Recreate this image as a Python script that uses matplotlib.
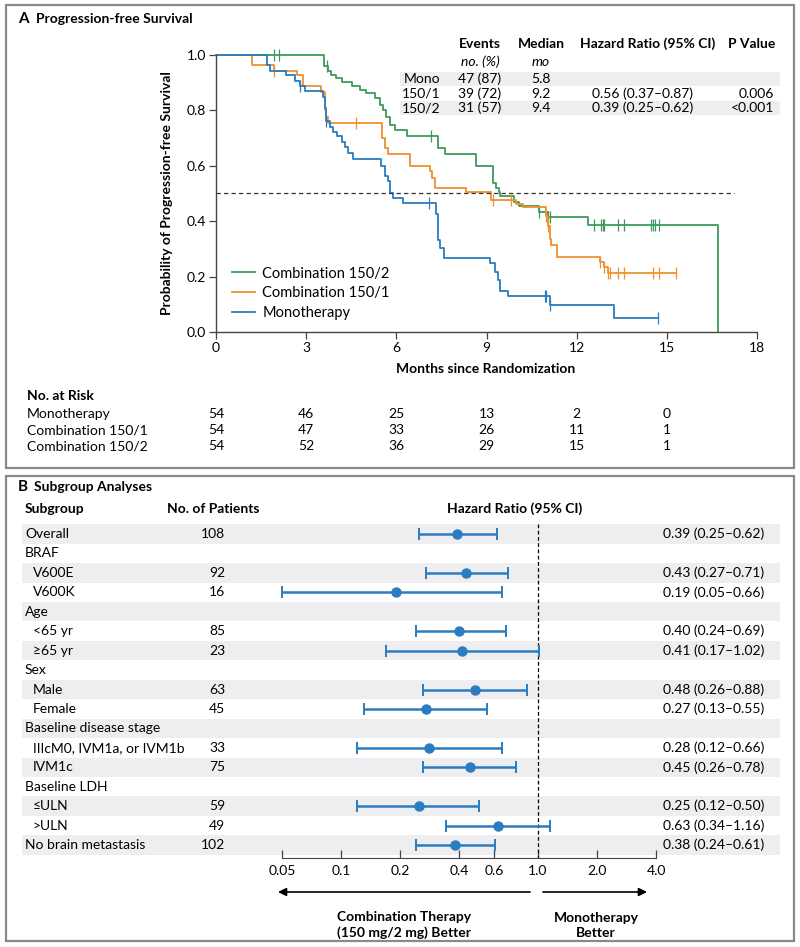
import numpy as np
import matplotlib
matplotlib.use('Agg')
import matplotlib.pyplot as plt
from matplotlib.patches import Rectangle
from matplotlib.transforms import blended_transform_factory
from matplotlib import font_manager

names = {f.name for f in font_manager.fontManager.ttflist}
base_font = 'Liberation Sans Narrow' if 'Liberation Sans Narrow' in names else 'Lato'
plt.rcParams['font.family'] = [base_font, 'DejaVu Sans']

# ---------------- Panel A data ----------------
# drop times (months) and survival after each drop
mono_t = [1.70, 1.79, 2.33, 2.62, 2.79, 2.95, 3.57, 3.62, 3.67, 3.79, 3.90, 4.01, 4.18,
          4.29, 4.40, 4.56, 5.50, 5.61, 5.72, 5.80, 5.89, 6.22, 7.33, 7.39, 7.46, 7.57,
          9.10, 9.27, 9.38, 9.46, 9.71, 11.10, 13.24]
mono_s = [0.963, 0.941, 0.926, 0.907, 0.889, 0.870, 0.850, 0.808, 0.760, 0.741, 0.722, 0.706, 0.685,
          0.667, 0.648, 0.625, 0.600, 0.563, 0.544, 0.500, 0.485, 0.466, 0.425, 0.333, 0.303, 0.268,
          0.249, 0.215, 0.189, 0.148, 0.129, 0.096, 0.050]
mono_end = 14.70
mono_cens = [2.80, 3.67, 7.09, 10.93, 10.99, 11.10, 14.70]

c1_t = [1.19, 1.93, 2.68, 2.90, 3.51, 3.62, 3.67, 3.73, 5.53, 5.62, 5.73, 6.44, 7.11, 7.20,
        7.28, 8.33, 9.16, 9.99, 10.21, 10.98, 11.04, 11.10, 11.15, 11.34, 12.76, 12.92, 13.03]
c1_s = [0.963, 0.944, 0.926, 0.887, 0.867, 0.800, 0.776, 0.755, 0.700, 0.664, 0.644, 0.600, 0.580, 0.556,
        0.520, 0.505, 0.475, 0.462, 0.451, 0.418, 0.381, 0.334, 0.315, 0.270, 0.252, 0.234, 0.212]
c1_end = 15.30
c1_cens = [1.93, 4.67, 9.21, 9.82, 10.98, 11.04, 12.76, 12.92, 13.03, 13.12, 13.37, 13.57,
           14.53, 14.75, 15.30]

c2_t = [3.59, 3.73, 3.84, 4.00, 4.18, 4.51, 4.78, 5.00, 5.28, 5.45, 5.54, 5.67, 5.78, 5.95,
        6.34, 7.39, 7.61, 8.66, 9.21, 9.30, 9.41, 9.46, 9.93, 10.08, 10.74, 11.04, 12.37, 16.71]
c2_s = [0.961, 0.944, 0.929, 0.917, 0.901, 0.887, 0.875, 0.863, 0.845, 0.821, 0.803, 0.776, 0.748, 0.728,
        0.706, 0.664, 0.644, 0.600, 0.538, 0.520, 0.505, 0.490, 0.470, 0.455, 0.432, 0.415, 0.385, 0.0]
c2_end = 16.71
c2_cens = [1.94, 2.10, 3.70, 7.17, 10.74, 11.04, 11.10, 12.57, 12.80, 12.86, 12.90, 13.37,
           13.57, 14.48, 14.53, 14.59, 14.75]

risk_times = [0, 3, 6, 9, 12, 15]
risk_labels = ['Monotherapy', 'Combination 150/1', 'Combination 150/2']
risk_mono = [54, 46, 25, 13, 2, 0]
risk_c1 = [54, 47, 33, 26, 11, 1]
risk_c2 = [54, 52, 36, 29, 15, 1]

tbl_groups = ['Mono', '150/1', '150/2']
tbl_events = ['47 (87)', '39 (72)', '31 (57)']
tbl_median = ['5.8', '9.2', '9.4']
tbl_hr = ['', '0.56 (0.37\u20130.87)', '0.39 (0.25\u20130.62)']
tbl_p = ['', '0.006', '<0.001']

# ---------------- Panel B data ----------------
sub_labels = ['Overall', 'BRAF', 'V600E', 'V600K', 'Age', '<65 yr', '\u226565 yr', 'Sex',
              'Male', 'Female', 'Baseline disease stage', 'IIIcM0, IVM1a, or IVM1b', 'IVM1c',
              'Baseline LDH', '\u2264ULN', '>ULN', 'No brain metastasis']
sub_indent = [0, 0, 1, 1, 0, 1, 1, 0, 1, 1, 0, 1, 1, 0, 1, 1, 0]
sub_n = [108, None, 92, 16, None, 85, 23, None, 63, 45, None, 33, 75, None, 59, 49, 102]
sub_hr = [0.39, None, 0.43, 0.19, None, 0.40, 0.41, None, 0.48, 0.27, None, 0.28, 0.45, None, 0.25, 0.63, 0.38]
sub_lo = [0.25, None, 0.27, 0.05, None, 0.24, 0.17, None, 0.26, 0.13, None, 0.12, 0.26, None, 0.12, 0.34, 0.24]
sub_hi = [0.62, None, 0.71, 0.66, None, 0.69, 1.02, None, 0.88, 0.55, None, 0.66, 0.78, None, 0.50, 1.16, 0.61]
hr_ticks = [0.05, 0.1, 0.2, 0.4, 0.6, 1.0, 2.0, 4.0]

GREEN = '#3b9b5c'
ORANGE = '#ef912c'
BLUE = '#2b7cc0'
BAND = '#eeeef1'
FS = 10

W, H = 800, 947
fig = plt.figure(figsize=(W / 100, H / 100), dpi=100)


def box(l, t, r, b):
    return [l / W, 1 - b / H, (r - l) / W, (b - t) / H]


ov = fig.add_axes([0, 0, 1, 1])
ov.set_xlim(0, W)
ov.set_ylim(H, 0)
ov.axis('off')

# panel frames
for top, bot in [(5, 468), (476, 941)]:
    ov.add_patch(Rectangle((6, top), 788, bot - top, fill=False, ec='#8a8a8a', lw=1.6))

# ---------------- Panel A ----------------
ov.text(18, 19, 'A', fontsize=FS + 1, fontweight='bold', va='center')
ov.text(36, 19, 'Progression-free Survival', fontsize=FS, fontweight='bold', va='center')

ax = fig.add_axes(box(216, 55, 757, 332))
ax.patch.set_alpha(0)


def km(t, s, end, cens, color, label):
    tt = [0] + t + [end]
    ss = [1.0] + s + [s[-1]]
    ax.step(tt, ss, where='post', color=color, lw=1.3, label=label, clip_on=False)
    tarr = np.array([0] + t)
    sarr = np.array([1.0] + s)
    cy = sarr[np.searchsorted(tarr, cens, side='right') - 1]
    ax.plot(cens, cy, ls='none', marker='|', ms=8, mew=0.9, color=color, clip_on=False)


km(c2_t, c2_s, c2_end, c2_cens, GREEN, 'Combination 150/2')
km(c1_t, c1_s, c1_end, c1_cens, ORANGE, 'Combination 150/1')
km(mono_t, mono_s, mono_end, mono_cens, BLUE, 'Monotherapy')
ax.plot([0, 17.25], [0.5, 0.5], color='#333333', lw=0.9, ls=(0, (3.5, 2.5)))

ax.set_xlim(0, 18)
ax.set_ylim(0, 1.0)
ax.set_xticks(range(0, 19, 3))
ax.set_yticks(np.arange(0, 1.01, 0.2))
ax.set_yticklabels(['%.1f' % v for v in np.arange(0, 1.01, 0.2)])
for sp in ['top', 'right']:
    ax.spines[sp].set_visible(False)
for sp in ['left', 'bottom']:
    ax.spines[sp].set_color('#444444')
    ax.spines[sp].set_linewidth(1.0)
ax.tick_params(direction='out', length=5, width=0.9, labelsize=FS, color='#444444', pad=2)
ax.legend(loc='lower left', bbox_to_anchor=(0.005, -0.005), frameon=False, fontsize=FS + 0.5,
          handlelength=1.6, handletextpad=0.5, labelspacing=0.4)

ov.text(167, 193, 'Probability of Progression-free Survival', rotation=90, fontsize=FS,
        fontweight='bold', ha='center', va='center')
ov.text(486, 369, 'Months since Randomization', fontsize=FS, fontweight='bold',
        ha='center', va='center')

# summary table
ov.text(480, 44, 'Events', fontsize=FS, fontweight='bold', ha='center', va='center')
ov.text(541, 44, 'Median', fontsize=FS, fontweight='bold', ha='center', va='center')
ov.text(648, 44, 'Hazard Ratio (95% CI)', fontsize=FS, fontweight='bold', ha='center', va='center')
ov.text(752, 44, 'P Value', fontsize=FS, fontweight='bold', ha='center', va='center')
ov.text(480, 62, 'no. (%)', fontsize=FS, style='italic', ha='center', va='center')
ov.text(541, 62, 'mo', fontsize=FS, style='italic', ha='center', va='center')
for i, g in enumerate(tbl_groups):
    y = 79 + 14.5 * i
    if i % 2 == 0:
        ov.add_patch(Rectangle((400, y - 7.25), 380, 14.5, fc=BAND, ec='none', zorder=0))
    ov.text(440, y, g, fontsize=FS, ha='right', va='center')
    ov.text(480, y, tbl_events[i], fontsize=FS, ha='center', va='center')
    ov.text(541, y, tbl_median[i], fontsize=FS, ha='center', va='center')
    ov.text(643, y, tbl_hr[i], fontsize=FS, ha='center', va='center')
    ov.text(774, y, tbl_p[i], fontsize=FS, ha='right', va='center')

# number at risk
ov.text(27, 396, 'No. at Risk', fontsize=FS, fontweight='bold', va='center')
risk_tr = blended_transform_factory(ax.transData, ov.transData)
for j, (lab, vals) in enumerate(zip(risk_labels, [risk_mono, risk_c1, risk_c2])):
    y = 414 + 16 * j
    ov.text(27, y, lab, fontsize=FS, va='center')
    for t, v in zip(risk_times, vals):
        ax.text(t, y, str(v), transform=risk_tr, fontsize=FS, ha='center', va='center', clip_on=False)

# ---------------- Panel B ----------------
ov.text(18, 487, 'B', fontsize=FS + 1, fontweight='bold', va='center')
ov.text(34, 487, 'Subgroup Analyses', fontsize=FS, fontweight='bold', va='center')
ov.text(25, 509, 'Subgroup', fontsize=FS, fontweight='bold', va='center')
ov.text(213, 509, 'No. of Patients', fontsize=FS, fontweight='bold', ha='center', va='center')
ov.text(515, 509, 'Hazard Ratio (95% CI)', fontsize=FS, fontweight='bold', ha='center', va='center')

ROW0, PITCH = 534, 19.44
fa = fig.add_axes(box(282, 522, 656, 858))
fa.patch.set_alpha(0)
fa.set_xscale('log')
fa.set_xlim(0.05, 4.0)
fa.set_ylim((858 - ROW0) / PITCH, (522 - ROW0) / PITCH)
rows = np.arange(len(sub_labels))
x0 = (22 - 282) / 374
x1 = (780 - 282) / 374
row_tr = blended_transform_factory(ov.transData, fa.transData)
for i in rows:
    if i % 2 == 0:
        fa.axhspan(i - 0.5, i + 0.5, xmin=x0, xmax=x1, color=BAND, lw=0, clip_on=False, zorder=0)
    fa.text(33 if sub_indent[i] else 25, i, sub_labels[i], transform=row_tr, fontsize=FS, va='center')
    if sub_n[i] is not None:
        fa.text(225, i, str(sub_n[i]), transform=row_tr, fontsize=FS, ha='right', va='center')
        fa.text(663, i, '%.2f (%.2f\u2013%.2f)' % (sub_hr[i], sub_lo[i], sub_hi[i]),
                transform=row_tr, fontsize=FS, va='center')

idx = [i for i in rows if sub_hr[i] is not None]
hr = np.array([sub_hr[i] for i in idx])
lo = np.array([sub_lo[i] for i in idx])
hi = np.array([sub_hi[i] for i in idx])
fa.errorbar(hr, idx, xerr=[hr - lo, hi - hr], fmt='o', color=BLUE, ms=6.5, capsize=4,
            elinewidth=1.8, capthick=1.4, zorder=3, clip_on=False)
fa.vlines(1.0, -0.5, fa.get_ylim()[0], colors='black', lw=0.9, linestyles=(0, (3, 2)), zorder=2)

for sp in ['top', 'right', 'left']:
    fa.spines[sp].set_visible(False)
fa.spines['bottom'].set_color('#444444')
fa.set_yticks([])
fa.set_xticks(hr_ticks)
fa.set_xticklabels(['%g' % v if v < 1 else '%.1f' % v for v in hr_ticks])
fa.minorticks_off()
fa.tick_params(axis='x', direction='in', length=6, width=0.9, labelsize=FS, pad=5, color='#444444')

arr_tr = blended_transform_factory(fa.transData, ov.transData)
ap = dict(arrowstyle='-|>', color='black', lw=1.2, mutation_scale=12, shrinkA=0, shrinkB=0)
fa.annotate('', xy=(0.0477, 892), xytext=(0.915, 892), xycoords=arr_tr, textcoords=arr_tr, arrowprops=ap)
fa.annotate('', xy=(3.6, 892), xytext=(1.064, 892), xycoords=arr_tr, textcoords=arr_tr, arrowprops=ap)
ov.text(404, 925, 'Combination Therapy\n(150 mg/2 mg) Better', fontsize=FS, fontweight='bold',
        ha='center', va='center', linespacing=1.3)
ov.text(596, 925, 'Monotherapy\nBetter', fontsize=FS, fontweight='bold',
        ha='center', va='center', linespacing=1.3)

fig.savefig('out.png', dpi=100)
